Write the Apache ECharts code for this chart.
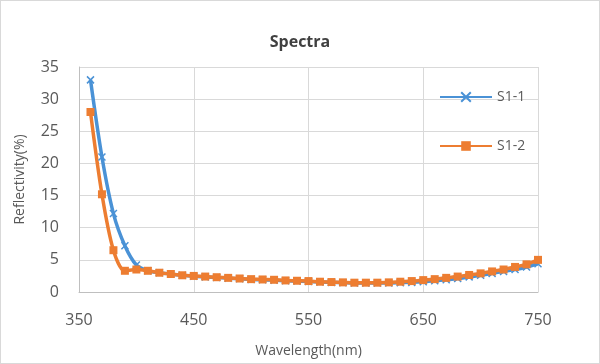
<!DOCTYPE html>
<html>
<head>
<meta charset="utf-8">
<script src="https://cdn.jsdelivr.net/npm/echarts@6/dist/echarts.min.js"></script>
<style>
  html, body { margin: 0; padding: 0; background: #fff; }
  #chart { width: 598px; height: 362px; border: 1px solid #d9d9d9; }
</style>
</head>
<body>
<div id="chart"></div>
<script>
// wavelengths in nm
const wavelengths = [360, 370, 380, 390, 400, 410, 420, 430, 440, 450,
  460, 470, 480, 490, 500, 510, 520, 530, 540, 550,
  560, 570, 580, 590, 600, 610, 620, 630, 640, 650,
  660, 670, 680, 690, 700, 710, 720, 730, 740, 750]

const s11 = [33, 21, 12.2, 7.2, 4.2, 3.3, 3.0, 2.8, 2.6, 2.45,
  2.35, 2.25, 2.15, 2.05, 1.95, 1.9, 1.85, 1.75, 1.7, 1.65,
  1.55, 1.5, 1.45, 1.4, 1.4, 1.4, 1.4, 1.45, 1.5, 1.6,
  1.75, 1.9, 2.1, 2.35, 2.6, 2.9, 3.2, 3.5, 3.9, 4.4]

const s12 = [28, 15.2, 6.5, 3.3, 3.5, 3.3, 3.0, 2.8, 2.6, 2.5,
  2.4, 2.3, 2.2, 2.1, 2.0, 1.95, 1.9, 1.8, 1.75, 1.7,
  1.6, 1.55, 1.5, 1.45, 1.45, 1.45, 1.5, 1.6, 1.7, 1.85,
  2.0, 2.2, 2.4, 2.65, 2.9, 3.2, 3.5, 3.9, 4.3, 5.0]

const pairs = (ys) => wavelengths.map((w, i) => [w, ys[i]])

const chart = echarts.init(document.getElementById('chart'))
const font = '"Open Sans", sans-serif'
chart.setOption({
  animation: false,
  textStyle: { fontFamily: font },
  title: {
    text: 'Spectra',
    left: 'center',
    top: 28,
    textStyle: { fontSize: 16, fontWeight: 'bold', color: '#404040', fontFamily: font }
  },
  grid: { left: 78, right: 61, top: 66, bottom: 69 },
  legend: {
    orient: 'vertical',
    left: 433,
    top: 84,
    itemGap: 35,
    itemWidth: 52,
    itemHeight: 12,
    textStyle: { fontSize: 14, color: '#595959', fontFamily: font }
  },
  xAxis: {
    type: 'value',
    min: 350, max: 750, interval: 100,
    name: 'Wavelength(nm)',
    nameLocation: 'middle',
    nameGap: 52,
    nameTextStyle: { fontSize: 14, color: '#595959' },
    axisLine: { lineStyle: { color: '#bfbfbf' } },
    axisTick: { show: false },
    axisLabel: { fontSize: 16, color: '#595959', margin: 20 },
    splitLine: { show: true, lineStyle: { color: '#d9d9d9' } }
  },
  yAxis: {
    type: 'value',
    min: 0, max: 35, interval: 5,
    name: 'Reflectivity(%)',
    nameLocation: 'middle',
    nameGap: 52,
    nameTextStyle: { fontSize: 14, color: '#595959' },
    axisLine: { show: true, lineStyle: { color: '#bfbfbf' } },
    axisTick: { show: false },
    axisLabel: { fontSize: 16, color: '#595959', margin: 20 },
    splitLine: { lineStyle: { color: '#d9d9d9' } }
  },
  series: [
    {
      name: 'S1-1',
      type: 'line',
      data: pairs(s11),
      smooth: 0.3,
      symbol: 'path://M0,0L10,10M10,0L0,10',
      symbolSize: 7,
      showAllSymbol: true,
      lineStyle: { color: '#4a92d6', width: 3.5 },
      itemStyle: { color: '#4a92d6', borderColor: '#4a92d6', borderWidth: 1.5 }
    },
    {
      name: 'S1-2',
      type: 'line',
      data: pairs(s12),
      smooth: 0.3,
      symbol: 'rect',
      symbolSize: 8,
      showAllSymbol: true,
      lineStyle: { color: '#ed7d31', width: 3.5 },
      itemStyle: { color: '#ed7d31', borderWidth: 0 }
    }
  ]
})
</script>
</body>
</html>
